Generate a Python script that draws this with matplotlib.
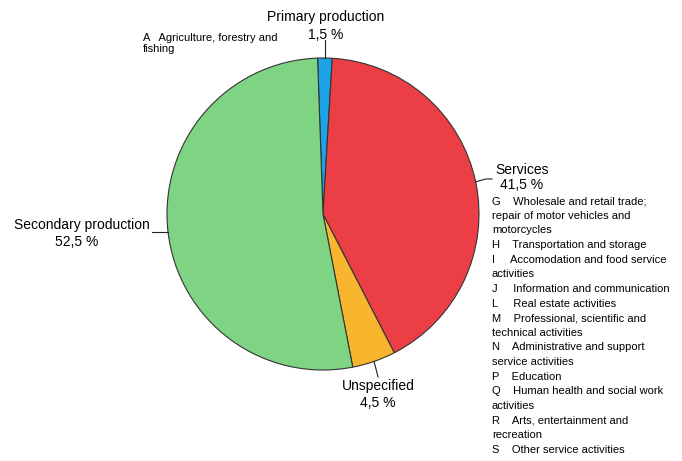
import numpy as np
import matplotlib
matplotlib.use("Agg")
import matplotlib.pyplot as plt

plt.rcParams['font.family'] = ['Liberation Sans', 'DejaVu Sans']

sectors = ["Primary production", "Services", "Unspecified", "Secondary production"]
shares = [1.5, 41.5, 4.5, 52.5]
colors = ["#1aa3e6", "#ec3f45", "#f8b52e", "#7fd483"]

primary_note = "A   Agriculture, forestry and\nfishing"
services_list = [
    "G    Wholesale and retail trade;",
    "repair of motor vehicles and",
    "motorcycles",
    "H    Transportation and storage",
    "I     Accomodation and food service",
    "activities",
    "J     Information and communication",
    "L     Real estate activities",
    "M    Professional, scientific and",
    "technical activities",
    "N    Administrative and support",
    "service activities",
    "P    Education",
    "Q    Human health and social work",
    "activities",
    "R    Arts, entertainment and",
    "recreation",
    "S    Other service activities",
]

W, H = 682, 461
fig = plt.figure(figsize=(W / 100, H / 100), dpi=100)
ax = fig.add_axes([0, 0, 1, 1])

cx, cy, r = 323, H - 214, 156
start = 92
ax.pie(shares, colors=colors, startangle=start, counterclock=False,
       center=(cx, cy), radius=r, frame=True,
       wedgeprops=dict(edgecolor="#333333", linewidth=0.8))
ax.set_xlim(0, W)
ax.set_ylim(0, H)
ax.set_aspect('equal')
ax.axis('off')

# mid angle of every wedge
cum = np.cumsum([0] + shares[:-1])
mids = [start - (c + s / 2) / 100 * 360 for c, s in zip(cum, shares)]

def edge(i, k=1.0):
    a = np.deg2rad(mids[i])
    return cx + k * r * np.cos(a), cy + k * r * np.sin(a)

def pct(v):
    return f"{v:.1f}".replace(".", ",") + " %"

lc = "#222222"
fs = 10

# Primary production
x0, y0 = edge(0)
ax.plot([x0, x0], [y0, H - 40], color=lc, lw=0.8)
ax.text(326, H - 17, sectors[0], ha='center', va='center', fontsize=fs)
ax.text(326, H - 35, pct(shares[0]), ha='center', va='center', fontsize=fs)
ax.text(143, H - 33, primary_note, ha='left', va='top', fontsize=8,
        linespacing=1.15)

# Services
x1, y1 = edge(1)
ax.plot([x1, x1 + 10, 492], [y1, H - 179, H - 179], color=lc, lw=0.8)
ax.text(495, H - 170, sectors[1], ha='left', va='center', fontsize=fs)
ax.text(500, H - 185, pct(shares[1]), ha='left', va='center', fontsize=fs)
for j, line in enumerate(services_list):
    ax.text(492, H - 201 - j * 14.65, line, ha='left', va='center', fontsize=8)

# Unspecified
x2, y2 = edge(2)
ax.plot([x2, x2 + 4], [y2, H - 377], color=lc, lw=0.8)
ax.text(378, H - 386, sectors[2], ha='center', va='center', fontsize=fs)
ax.text(378, H - 403, pct(shares[2]), ha='center', va='center', fontsize=fs)

# Secondary production
x3, y3 = edge(3)
ax.plot([x3, 152], [H - 232, H - 232], color=lc, lw=0.8)
ax.text(150, H - 225, sectors[3], ha='right', va='center', fontsize=fs)
ax.text(77, H - 242, pct(shares[3]), ha='center', va='center', fontsize=fs)

fig.savefig("out.png", dpi=100)
